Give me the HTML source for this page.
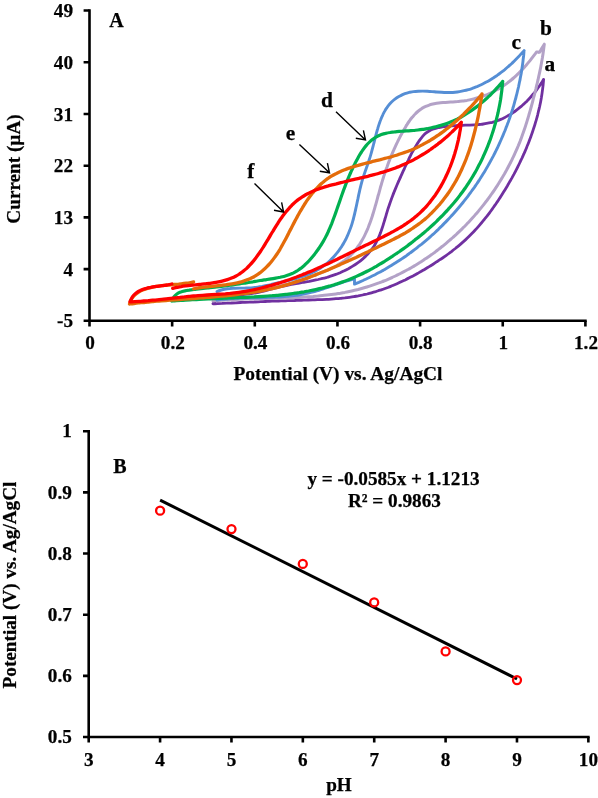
<!DOCTYPE html>
<html><head><meta charset="utf-8">
<style>
html,body{margin:0;padding:0;background:#fff;}
body{width:598px;height:798px;overflow:hidden;}
svg{display:block;}
text{font-family:"Liberation Serif",serif;font-weight:bold;fill:#000;stroke:#000;stroke-width:0.25px;}
.t{font-size:19.2px;}
.l{font-size:21.4px;}.L{font-size:20px;}
</style></head><body>
<svg width="598" height="798" viewBox="0 0 598 798">
<rect width="598" height="798" fill="#fff"/>
<g fill="none" stroke-linecap="round" stroke-linejoin="round">
<path d="M213.0,303.6 C213.5,303.0 214.7,301.1 215.9,300.2 C217.0,299.2 218.3,298.6 219.7,298.0 C221.1,297.5 222.6,297.1 224.1,296.8 C225.6,296.4 227.1,296.2 228.6,295.9 C230.1,295.7 231.7,295.5 233.2,295.4 C234.7,295.2 236.2,295.1 237.8,294.9 C239.3,294.8 240.8,294.7 242.3,294.6 C243.9,294.4 245.4,294.3 246.9,294.1 C248.4,294.0 249.9,293.8 251.4,293.5 C252.9,293.3 254.4,293.1 255.9,292.8 C257.4,292.5 258.9,292.2 260.4,291.8 C261.9,291.5 263.3,291.1 264.8,290.8 C266.3,290.4 267.8,290.0 269.2,289.7 C270.7,289.3 272.2,288.9 273.7,288.5 C275.1,288.1 276.6,287.7 278.1,287.4 C279.6,287.0 281.0,286.6 282.5,286.3 C284.0,286.0 285.5,285.6 287.0,285.3 C288.4,285.0 289.9,284.7 291.4,284.4 C292.9,284.2 294.4,283.9 295.9,283.6 C297.4,283.4 298.9,283.1 300.4,282.8 C301.9,282.6 303.3,282.3 304.8,282.1 C306.3,281.8 307.8,281.5 309.3,281.3 C310.8,281.0 312.3,280.7 313.8,280.4 C315.3,280.1 316.7,279.8 318.2,279.5 C319.7,279.1 321.2,278.8 322.6,278.4 C324.1,278.1 325.6,277.7 327.1,277.3 C328.5,276.8 330.0,276.4 331.4,275.9 C332.9,275.4 334.3,274.9 335.8,274.4 C337.2,273.9 338.6,273.3 340.1,272.7 C341.5,272.1 342.9,271.5 344.3,270.8 C345.6,270.1 347.0,269.4 348.4,268.7 C349.7,268.0 351.0,267.2 352.3,266.4 C353.6,265.6 354.9,264.8 356.1,264.0 C357.4,263.1 358.6,262.2 359.8,261.3 C361.0,260.4 362.1,259.4 363.3,258.4 C364.4,257.4 365.5,256.4 366.5,255.3 C367.6,254.3 368.6,253.2 369.5,252.0 C370.5,250.9 371.4,249.8 372.3,248.6 C373.2,247.4 374.0,246.1 374.8,244.9 C375.5,243.6 376.3,242.3 376.9,240.9 C377.6,239.6 378.3,238.2 378.9,236.8 C379.5,235.5 380.0,234.0 380.6,232.6 C381.1,231.2 381.6,229.7 382.1,228.2 C382.6,226.8 383.1,225.3 383.5,223.8 C384.0,222.3 384.4,220.8 384.9,219.3 C385.3,217.8 385.8,216.3 386.2,214.8 C386.6,213.3 387.1,211.9 387.5,210.4 C388.0,208.9 388.5,207.4 389.0,206.0 C389.5,204.5 390.0,203.1 390.5,201.6 C391.0,200.2 391.5,198.8 392.0,197.4 C392.6,195.9 393.1,194.5 393.7,193.1 C394.2,191.7 394.8,190.3 395.4,188.9 C396.0,187.6 396.5,186.2 397.1,184.8 C397.7,183.4 398.3,182.0 398.9,180.7 C399.5,179.3 400.1,177.9 400.8,176.5 C401.4,175.2 402.0,173.8 402.6,172.4 C403.2,171.1 403.8,169.7 404.5,168.3 C405.1,166.9 405.7,165.6 406.4,164.2 C407.0,162.8 407.6,161.4 408.3,160.1 C409.0,158.7 409.6,157.3 410.3,156.0 C411.0,154.6 411.7,153.3 412.4,151.9 C413.2,150.6 413.9,149.3 414.7,147.9 C415.5,146.6 416.3,145.3 417.1,144.0 C418.0,142.7 418.8,141.4 419.7,140.1 C420.6,138.9 421.6,137.6 422.6,136.4 C423.6,135.2 424.6,134.1 425.8,133.1 C426.9,132.2 428.2,131.4 429.5,130.7 C430.7,130.0 432.1,129.4 433.5,128.9 C434.9,128.4 436.4,128.1 437.9,127.7 C439.3,127.4 440.8,127.2 442.3,126.9 C443.8,126.7 445.3,126.5 446.8,126.3 C448.3,126.1 449.9,126.0 451.4,125.9 C452.9,125.8 454.4,125.7 456.0,125.6 C457.5,125.5 459.0,125.5 460.5,125.4 C462.1,125.4 463.6,125.3 465.1,125.2 C466.7,125.2 468.2,125.1 469.7,125.1 C471.3,125.0 472.8,124.9 474.3,124.8 C475.8,124.7 477.3,124.6 478.8,124.5 C480.4,124.3 481.9,124.2 483.3,124.0 C484.8,123.8 486.3,123.5 487.8,123.2 C489.3,123.0 490.7,122.6 492.2,122.3 C493.6,121.9 495.1,121.5 496.5,121.0 C497.9,120.5 499.3,120.0 500.7,119.4 C502.1,118.8 503.5,118.1 504.8,117.5 C506.2,116.8 507.5,116.0 508.8,115.3 C510.2,114.5 511.5,113.7 512.7,112.8 C514.0,112.0 515.3,111.1 516.5,110.1 C517.8,109.2 519.0,108.2 520.2,107.2 C521.4,106.2 522.5,105.2 523.7,104.2 C524.8,103.1 526.0,102.0 527.1,100.9 C528.1,99.8 529.2,98.7 530.3,97.5 C531.3,96.4 532.3,95.2 533.3,94.0 C534.3,92.9 535.2,91.7 536.2,90.5 C537.1,89.3 538.0,88.0 538.8,86.8 C539.7,85.6 540.5,84.4 541.3,83.1 C542.1,81.9 543.2,80.0 543.6,79.4 M543.6,79.4 C543.5,80.2 543.4,82.4 543.2,83.9 C543.1,85.4 542.9,86.9 542.7,88.4 C542.5,89.9 542.3,91.4 542.1,92.9 C541.9,94.4 541.6,95.9 541.4,97.4 C541.1,98.9 540.9,100.4 540.6,101.9 C540.3,103.3 540.0,104.8 539.7,106.3 C539.3,107.8 539.0,109.3 538.6,110.7 C538.3,112.2 537.9,113.7 537.6,115.1 C537.2,116.6 536.8,118.0 536.4,119.5 C536.0,121.0 535.5,122.4 535.1,123.9 C534.7,125.3 534.2,126.8 533.7,128.2 C533.3,129.6 532.8,131.1 532.3,132.5 C531.8,133.9 531.3,135.4 530.8,136.8 C530.3,138.2 529.7,139.6 529.2,141.1 C528.6,142.5 528.1,143.9 527.5,145.3 C526.9,146.7 526.4,148.1 525.8,149.5 C525.2,150.9 524.6,152.3 524.0,153.7 C523.3,155.1 522.7,156.5 522.1,157.8 C521.4,159.2 520.8,160.6 520.1,162.0 C519.5,163.3 518.8,164.7 518.1,166.1 C517.5,167.4 516.8,168.8 516.1,170.1 C515.4,171.5 514.7,172.8 514.0,174.1 C513.2,175.5 512.5,176.8 511.8,178.1 C511.0,179.5 510.3,180.8 509.5,182.1 C508.8,183.4 508.0,184.7 507.3,186.0 C506.5,187.3 505.7,188.6 504.9,189.9 C504.1,191.2 503.3,192.5 502.5,193.8 C501.7,195.1 500.9,196.4 500.1,197.6 C499.3,198.9 498.4,200.2 497.6,201.4 C496.7,202.7 495.9,203.9 495.0,205.2 C494.1,206.4 493.3,207.7 492.4,208.9 C491.5,210.1 490.6,211.4 489.7,212.6 C488.8,213.8 487.9,215.0 487.0,216.2 C486.0,217.4 485.1,218.6 484.1,219.7 C483.2,220.9 482.2,222.1 481.2,223.2 C480.3,224.4 479.3,225.5 478.3,226.6 C477.3,227.8 476.3,228.9 475.2,230.0 C474.2,231.1 473.2,232.2 472.1,233.3 C471.1,234.3 470.0,235.4 468.9,236.5 C467.9,237.5 466.8,238.6 465.7,239.6 C464.6,240.6 463.5,241.6 462.3,242.6 C461.2,243.6 460.1,244.6 458.9,245.6 C457.8,246.6 456.6,247.5 455.4,248.5 C454.2,249.4 453.0,250.3 451.8,251.3 C450.6,252.2 449.4,253.1 448.2,254.0 C447.0,254.9 445.7,255.7 444.5,256.6 C443.3,257.5 442.0,258.4 440.7,259.2 C439.5,260.1 438.2,260.9 436.9,261.7 C435.7,262.6 434.4,263.4 433.1,264.2 C431.8,265.0 430.5,265.8 429.2,266.6 C427.9,267.4 426.6,268.2 425.3,269.0 C424.0,269.8 422.7,270.5 421.3,271.3 C420.0,272.0 418.7,272.8 417.4,273.5 C416.0,274.3 414.7,275.0 413.4,275.7 C412.0,276.4 410.7,277.1 409.3,277.8 C408.0,278.5 406.6,279.2 405.2,279.9 C403.9,280.5 402.5,281.2 401.1,281.8 C399.8,282.5 398.4,283.1 397.0,283.7 C395.6,284.3 394.2,284.9 392.8,285.5 C391.4,286.1 390.0,286.6 388.6,287.2 C387.2,287.7 385.8,288.2 384.4,288.7 C383.0,289.3 381.6,289.7 380.1,290.2 C378.7,290.7 377.3,291.1 375.8,291.6 C374.4,292.0 372.9,292.4 371.5,292.8 C370.0,293.2 368.6,293.6 367.1,294.0 C365.7,294.3 364.2,294.7 362.7,295.0 C361.3,295.3 359.8,295.6 358.3,295.9 C356.8,296.1 355.3,296.4 353.8,296.6 C352.4,296.9 350.9,297.1 349.4,297.3 C347.9,297.5 346.4,297.7 344.9,297.9 C343.4,298.0 341.8,298.2 340.3,298.3 C338.8,298.5 337.3,298.6 335.8,298.7 C334.3,298.9 332.8,299.0 331.2,299.1 C329.7,299.2 328.2,299.3 326.7,299.3 C325.1,299.4 323.6,299.5 322.1,299.6 C320.6,299.6 319.0,299.7 317.5,299.7 C316.0,299.8 314.5,299.9 312.9,299.9 C311.4,300.0 309.9,300.0 308.4,300.0 C306.8,300.1 305.3,300.1 303.8,300.2 C302.3,300.2 300.7,300.3 299.2,300.3 C297.7,300.4 296.2,300.4 294.7,300.5 C293.2,300.5 291.6,300.6 290.1,300.6 C288.6,300.7 287.1,300.7 285.6,300.8 C284.1,300.8 282.6,300.9 281.0,300.9 C279.5,301.0 278.0,301.0 276.5,301.1 C275.0,301.1 273.5,301.2 272.0,301.2 C270.5,301.3 269.0,301.4 267.5,301.4 C266.0,301.5 264.5,301.5 262.9,301.6 C261.4,301.7 259.9,301.7 258.4,301.8 C256.9,301.8 255.4,301.9 253.9,302.0 C252.4,302.0 250.9,302.1 249.4,302.2 C247.9,302.2 246.4,302.3 244.9,302.4 C243.3,302.4 241.8,302.5 240.3,302.5 C238.8,302.6 237.3,302.7 235.8,302.8 C234.3,302.8 232.8,302.9 231.2,303.0 C229.7,303.0 228.2,303.1 226.7,303.2 C225.2,303.2 223.7,303.3 222.1,303.4 C220.6,303.4 219.1,303.5 217.6,303.6 C216.1,303.7 213.8,303.8 213.0,303.8" stroke="#7030A0" stroke-width="2.8"/>
<path d="M213.0,299.0 C213.7,298.7 215.8,297.8 217.3,297.3 C218.7,296.9 220.2,296.4 221.6,296.1 C223.1,295.7 224.6,295.4 226.1,295.1 C227.6,294.8 229.1,294.5 230.6,294.3 C232.1,294.1 233.6,293.9 235.1,293.7 C236.7,293.5 238.2,293.4 239.7,293.2 C241.3,293.1 242.8,292.9 244.3,292.7 C245.9,292.6 247.4,292.4 248.9,292.2 C250.4,292.1 251.9,291.9 253.5,291.6 C255.0,291.4 256.5,291.2 258.0,290.9 C259.5,290.7 261.0,290.4 262.5,290.1 C264.0,289.8 265.5,289.5 267.0,289.2 C268.4,288.9 269.9,288.5 271.4,288.2 C272.9,287.9 274.4,287.5 275.9,287.1 C277.3,286.8 278.8,286.4 280.3,286.0 C281.8,285.6 283.2,285.2 284.7,284.8 C286.2,284.4 287.6,284.0 289.1,283.6 C290.6,283.2 292.1,282.7 293.5,282.3 C295.0,281.9 296.5,281.4 297.9,281.0 C299.4,280.5 300.9,280.0 302.3,279.6 C303.8,279.1 305.2,278.6 306.7,278.1 C308.1,277.6 309.6,277.1 311.1,276.6 C312.5,276.1 313.9,275.5 315.4,275.0 C316.8,274.5 318.3,273.9 319.7,273.4 C321.2,272.8 322.6,272.2 324.0,271.6 C325.4,271.0 326.9,270.4 328.3,269.8 C329.7,269.2 331.1,268.5 332.5,267.9 C333.9,267.2 335.2,266.5 336.6,265.7 C337.9,265.0 339.2,264.2 340.5,263.4 C341.8,262.5 343.0,261.6 344.3,260.7 C345.5,259.8 346.6,258.8 347.8,257.8 C348.9,256.9 350.0,255.8 351.1,254.8 C352.2,253.7 353.2,252.6 354.2,251.5 C355.1,250.3 356.1,249.2 357.0,248.0 C357.9,246.8 358.7,245.6 359.6,244.3 C360.4,243.1 361.2,241.8 361.9,240.5 C362.7,239.2 363.4,237.9 364.1,236.6 C364.8,235.3 365.4,233.9 366.0,232.5 C366.7,231.1 367.3,229.7 367.9,228.3 C368.4,226.9 369.0,225.5 369.5,224.1 C370.1,222.6 370.6,221.2 371.1,219.7 C371.6,218.2 372.1,216.8 372.6,215.3 C373.0,213.8 373.5,212.3 373.9,210.8 C374.4,209.3 374.8,207.8 375.2,206.3 C375.7,204.8 376.1,203.3 376.5,201.8 C376.9,200.3 377.3,198.8 377.7,197.3 C378.1,195.8 378.6,194.3 379.0,192.8 C379.4,191.3 379.8,189.8 380.2,188.3 C380.6,186.8 381.1,185.3 381.5,183.8 C381.9,182.3 382.4,180.9 382.8,179.4 C383.3,178.0 383.7,176.5 384.2,175.1 C384.7,173.6 385.2,172.2 385.6,170.8 C386.1,169.3 386.6,167.9 387.2,166.5 C387.7,165.1 388.2,163.6 388.7,162.2 C389.3,160.8 389.8,159.4 390.4,158.0 C390.9,156.6 391.5,155.2 392.1,153.8 C392.7,152.4 393.3,151.0 393.9,149.7 C394.5,148.3 395.2,146.9 395.8,145.5 C396.5,144.1 397.1,142.7 397.8,141.3 C398.5,140.0 399.2,138.6 399.9,137.2 C400.6,135.8 401.3,134.4 402.1,133.0 C402.8,131.7 403.6,130.3 404.4,128.9 C405.2,127.6 406.0,126.2 406.8,124.9 C407.6,123.5 408.5,122.2 409.4,121.0 C410.3,119.7 411.2,118.5 412.2,117.3 C413.2,116.2 414.2,115.0 415.2,114.0 C416.2,112.9 417.3,111.9 418.4,111.0 C419.6,110.0 420.7,109.2 421.9,108.4 C423.2,107.6 424.4,107.0 425.7,106.4 C427.0,105.8 428.4,105.3 429.8,104.8 C431.2,104.4 432.7,104.1 434.2,103.8 C435.6,103.5 437.1,103.2 438.7,103.0 C440.2,102.8 441.8,102.7 443.3,102.6 C444.9,102.4 446.5,102.3 448.1,102.2 C449.7,102.1 451.3,102.0 452.9,101.9 C454.5,101.8 456.1,101.7 457.7,101.6 C459.3,101.4 460.9,101.3 462.4,101.1 C464.0,100.9 465.5,100.6 467.0,100.4 C468.6,100.1 470.1,99.8 471.6,99.4 C473.1,99.1 474.6,98.7 476.0,98.3 C477.5,97.9 479.0,97.5 480.4,97.0 C481.8,96.5 483.3,96.0 484.7,95.5 C486.1,95.0 487.5,94.4 488.8,93.8 C490.2,93.2 491.6,92.5 492.9,91.9 C494.3,91.2 495.6,90.5 496.9,89.8 C498.2,89.1 499.5,88.3 500.8,87.5 C502.0,86.7 503.3,85.9 504.5,85.0 C505.8,84.2 507.0,83.3 508.2,82.3 C509.4,81.4 510.6,80.5 511.8,79.5 C513.0,78.5 514.1,77.5 515.3,76.5 C516.4,75.4 517.5,74.3 518.6,73.2 C519.7,72.1 520.8,71.0 521.9,69.9 C523.0,68.7 524.0,67.6 525.1,66.4 C526.1,65.2 527.1,64.1 528.1,62.9 C529.1,61.7 530.1,60.5 531.0,59.3 C532.0,58.1 532.9,56.9 533.8,55.7 C534.7,54.5 536.1,52.7 536.5,52.1 L536.5,52.1 L537.8,51.9 L538.8,52.4 L539.8,52.0 L541.0,49.8 L542.1,47.7 L544.3,44.2 L544.3,44.2 C544.2,45.0 543.9,47.2 543.7,48.7 C543.5,50.2 543.3,51.7 543.1,53.2 C542.9,54.7 542.6,56.2 542.4,57.7 C542.1,59.2 541.9,60.7 541.6,62.2 C541.3,63.7 541.1,65.2 540.8,66.7 C540.5,68.1 540.2,69.6 539.9,71.1 C539.6,72.6 539.3,74.1 538.9,75.6 C538.6,77.0 538.3,78.5 538.0,80.0 C537.6,81.5 537.3,83.0 536.9,84.4 C536.6,85.9 536.2,87.4 535.9,88.9 C535.5,90.3 535.1,91.8 534.8,93.3 C534.4,94.8 534.0,96.2 533.6,97.7 C533.2,99.2 532.9,100.7 532.5,102.1 C532.1,103.6 531.7,105.1 531.3,106.5 C530.9,108.0 530.5,109.5 530.1,110.9 C529.7,112.4 529.2,113.9 528.8,115.3 C528.4,116.8 527.9,118.3 527.5,119.7 C527.1,121.2 526.6,122.6 526.1,124.1 C525.7,125.5 525.2,127.0 524.7,128.4 C524.2,129.9 523.7,131.3 523.2,132.7 C522.7,134.2 522.2,135.6 521.7,137.0 C521.2,138.4 520.6,139.9 520.1,141.3 C519.5,142.7 518.9,144.1 518.4,145.5 C517.8,146.9 517.2,148.3 516.6,149.7 C516.0,151.1 515.4,152.4 514.7,153.8 C514.1,155.2 513.5,156.6 512.8,157.9 C512.2,159.3 511.5,160.7 510.8,162.0 C510.1,163.4 509.4,164.7 508.7,166.0 C508.0,167.4 507.3,168.7 506.6,170.0 C505.8,171.4 505.1,172.7 504.4,174.0 C503.6,175.3 502.8,176.6 502.1,177.9 C501.3,179.2 500.5,180.5 499.7,181.8 C498.9,183.1 498.1,184.3 497.3,185.6 C496.4,186.9 495.6,188.1 494.8,189.4 C493.9,190.7 493.1,191.9 492.2,193.1 C491.3,194.4 490.5,195.6 489.6,196.8 C488.7,198.1 487.8,199.3 486.9,200.5 C485.9,201.7 485.0,202.9 484.1,204.1 C483.2,205.3 482.2,206.5 481.3,207.6 C480.3,208.8 479.3,210.0 478.4,211.2 C477.4,212.3 476.4,213.5 475.4,214.6 C474.4,215.8 473.4,216.9 472.4,218.0 C471.4,219.1 470.3,220.3 469.3,221.4 C468.3,222.5 467.2,223.6 466.2,224.7 C465.1,225.8 464.0,226.9 462.9,227.9 C461.9,229.0 460.8,230.1 459.7,231.1 C458.6,232.2 457.5,233.2 456.4,234.3 C455.2,235.3 454.1,236.3 453.0,237.4 C451.8,238.4 450.7,239.4 449.5,240.4 C448.4,241.4 447.2,242.4 446.1,243.3 C444.9,244.3 443.7,245.3 442.5,246.3 C441.3,247.2 440.1,248.2 438.9,249.1 C437.7,250.0 436.5,251.0 435.3,251.9 C434.0,252.8 432.8,253.7 431.6,254.6 C430.3,255.5 429.1,256.3 427.8,257.2 C426.6,258.1 425.3,258.9 424.0,259.8 C422.8,260.6 421.5,261.4 420.2,262.3 C418.9,263.1 417.6,263.9 416.3,264.7 C415.0,265.5 413.7,266.2 412.4,267.0 C411.1,267.8 409.8,268.5 408.4,269.3 C407.1,270.0 405.8,270.7 404.4,271.4 C403.1,272.1 401.8,272.8 400.4,273.5 C399.0,274.2 397.7,274.9 396.3,275.5 C394.9,276.2 393.6,276.8 392.2,277.5 C390.8,278.1 389.4,278.7 388.0,279.3 C386.7,279.9 385.3,280.5 383.9,281.0 C382.5,281.6 381.0,282.1 379.6,282.7 C378.2,283.2 376.8,283.7 375.4,284.2 C374.0,284.7 372.5,285.2 371.1,285.7 C369.7,286.2 368.2,286.6 366.8,287.0 C365.3,287.5 363.9,287.9 362.5,288.3 C361.0,288.7 359.5,289.1 358.1,289.5 C356.6,289.8 355.2,290.2 353.7,290.5 C352.2,290.9 350.8,291.2 349.3,291.5 C347.8,291.8 346.3,292.1 344.8,292.4 C343.4,292.6 341.9,292.9 340.4,293.2 C338.9,293.4 337.4,293.7 335.9,293.9 C334.4,294.1 332.9,294.3 331.4,294.5 C329.9,294.7 328.4,294.9 326.9,295.1 C325.4,295.3 323.9,295.5 322.4,295.6 C320.9,295.8 319.4,295.9 317.8,296.1 C316.3,296.2 314.8,296.3 313.3,296.5 C311.8,296.6 310.3,296.7 308.7,296.8 C307.2,296.9 305.7,297.0 304.2,297.1 C302.6,297.2 301.1,297.3 299.6,297.4 C298.1,297.5 296.5,297.5 295.0,297.6 C293.5,297.7 291.9,297.7 290.4,297.8 C288.9,297.9 287.3,297.9 285.8,298.0 C284.3,298.0 282.8,298.1 281.2,298.1 C279.7,298.2 278.2,298.2 276.6,298.3 C275.1,298.3 273.6,298.3 272.0,298.4 C270.5,298.4 269.0,298.5 267.4,298.5 C265.9,298.5 264.4,298.6 262.8,298.6 C261.3,298.6 259.8,298.7 258.3,298.7 C256.7,298.8 255.2,298.8 253.7,298.8 C252.2,298.9 250.6,298.9 249.1,299.0 C247.6,299.0 246.1,299.1 244.5,299.1 C243.0,299.2 241.5,299.2 240.0,299.3 C238.5,299.3 237.0,299.4 235.5,299.5 C233.9,299.5 232.4,299.6 230.9,299.7 C229.4,299.8 227.9,299.9 226.4,300.0 C224.9,300.1 223.4,300.2 221.9,300.3 C220.4,300.4 218.9,300.5 217.5,300.6 C216.0,300.7 213.7,300.9 213.0,301.0" stroke="#B3A2C7" stroke-width="3.0"/>
<path d="M217.0,291.5 C217.7,291.2 219.9,290.4 221.3,290.0 C222.8,289.6 224.3,289.3 225.8,289.0 C227.3,288.7 228.8,288.6 230.3,288.5 C231.8,288.3 233.4,288.3 234.9,288.2 C236.5,288.1 238.0,288.1 239.5,288.1 C241.1,288.1 242.6,288.1 244.2,288.1 C245.7,288.0 247.2,288.0 248.7,287.9 C250.2,287.9 251.8,287.8 253.2,287.6 C254.7,287.5 256.2,287.3 257.7,287.1 C259.2,286.9 260.7,286.6 262.1,286.4 C263.6,286.1 265.1,285.8 266.5,285.5 C268.0,285.2 269.5,284.9 271.0,284.6 C272.4,284.2 273.9,283.9 275.4,283.5 C276.9,283.2 278.4,282.8 279.9,282.5 C281.4,282.1 282.9,281.8 284.4,281.4 C286.0,281.0 287.5,280.7 289.0,280.3 C290.6,279.9 292.1,279.5 293.6,279.1 C295.2,278.7 296.7,278.3 298.2,277.8 C299.7,277.4 301.2,276.9 302.7,276.4 C304.2,275.9 305.7,275.4 307.1,274.8 C308.6,274.3 310.0,273.7 311.4,273.1 C312.8,272.4 314.2,271.8 315.5,271.0 C316.9,270.3 318.2,269.6 319.5,268.8 C320.7,268.0 322.0,267.1 323.2,266.2 C324.4,265.4 325.6,264.4 326.8,263.5 C327.9,262.5 329.0,261.5 330.1,260.5 C331.2,259.5 332.3,258.4 333.3,257.3 C334.3,256.2 335.3,255.1 336.2,253.9 C337.2,252.7 338.1,251.5 339.0,250.3 C339.9,249.1 340.7,247.9 341.6,246.6 C342.4,245.3 343.2,244.0 343.9,242.7 C344.7,241.4 345.4,240.0 346.1,238.7 C346.7,237.3 347.4,235.9 348.0,234.5 C348.6,233.1 349.2,231.7 349.7,230.3 C350.3,228.9 350.8,227.4 351.3,226.0 C351.8,224.5 352.2,223.0 352.6,221.6 C353.1,220.1 353.5,218.6 353.8,217.1 C354.2,215.6 354.6,214.1 354.9,212.6 C355.3,211.1 355.6,209.6 355.9,208.1 C356.3,206.5 356.6,205.0 356.9,203.5 C357.2,202.0 357.5,200.5 357.9,198.9 C358.2,197.4 358.5,195.9 358.8,194.4 C359.2,192.9 359.5,191.4 359.8,189.9 C360.2,188.4 360.5,186.9 360.9,185.4 C361.3,183.9 361.7,182.4 362.1,180.9 C362.5,179.5 363.0,178.0 363.5,176.6 C363.9,175.1 364.4,173.7 364.9,172.3 C365.4,170.8 365.9,169.4 366.4,168.0 C366.9,166.5 367.4,165.1 367.9,163.7 C368.4,162.3 368.9,160.8 369.3,159.4 C369.8,158.0 370.3,156.5 370.7,155.0 C371.1,153.6 371.5,152.1 371.9,150.7 C372.3,149.2 372.7,147.7 373.1,146.2 C373.5,144.7 373.8,143.3 374.2,141.8 C374.6,140.3 374.9,138.8 375.3,137.3 C375.7,135.8 376.1,134.3 376.5,132.8 C376.9,131.3 377.3,129.8 377.8,128.4 C378.2,126.9 378.7,125.4 379.2,123.9 C379.7,122.5 380.2,121.0 380.8,119.5 C381.3,118.1 381.9,116.7 382.6,115.3 C383.2,113.9 383.9,112.5 384.7,111.1 C385.4,109.8 386.2,108.5 387.1,107.3 C388.0,106.0 388.9,104.8 389.9,103.7 C390.9,102.6 392.0,101.5 393.2,100.5 C394.3,99.6 395.5,98.7 396.8,97.8 C398.0,97.0 399.3,96.2 400.7,95.6 C402.0,94.9 403.4,94.3 404.9,93.7 C406.3,93.2 407.7,92.8 409.2,92.4 C410.7,92.1 412.1,91.8 413.6,91.6 C415.1,91.4 416.6,91.3 418.2,91.2 C419.7,91.1 421.2,91.1 422.7,91.1 C424.3,91.1 425.8,91.2 427.3,91.3 C428.9,91.4 430.4,91.5 432.0,91.6 C433.5,91.7 435.1,91.9 436.6,92.0 C438.2,92.1 439.8,92.2 441.3,92.3 C442.9,92.4 444.4,92.5 445.9,92.5 C447.5,92.6 449.0,92.6 450.5,92.5 C452.1,92.5 453.6,92.4 455.1,92.2 C456.6,92.1 458.1,91.9 459.6,91.6 C461.1,91.4 462.6,91.1 464.1,90.7 C465.5,90.4 467.0,90.0 468.4,89.6 C469.9,89.2 471.3,88.7 472.8,88.2 C474.2,87.7 475.6,87.1 477.0,86.6 C478.4,86.0 479.8,85.4 481.2,84.7 C482.6,84.0 483.9,83.4 485.3,82.6 C486.6,81.9 488.0,81.2 489.3,80.4 C490.6,79.6 491.9,78.8 493.2,78.0 C494.5,77.1 495.8,76.2 497.1,75.4 C498.4,74.5 499.6,73.6 500.8,72.6 C502.1,71.7 503.3,70.7 504.5,69.8 C505.7,68.8 506.9,67.8 508.0,66.8 C509.2,65.8 510.4,64.7 511.5,63.7 C512.6,62.6 513.7,61.6 514.8,60.5 C515.9,59.4 517.0,58.3 518.0,57.3 C519.1,56.2 520.1,55.1 521.1,53.9 C522.1,52.8 523.6,51.2 524.1,50.6 M524.1,50.6 C524.0,51.4 523.8,53.7 523.7,55.2 C523.5,56.7 523.3,58.2 523.1,59.8 C523.0,61.3 522.8,62.8 522.6,64.3 C522.4,65.9 522.1,67.4 521.9,68.9 C521.7,70.4 521.4,71.9 521.2,73.5 C520.9,75.0 520.6,76.5 520.3,78.0 C520.1,79.5 519.8,81.0 519.4,82.5 C519.1,84.0 518.8,85.5 518.5,87.0 C518.1,88.5 517.8,90.0 517.4,91.5 C517.1,93.0 516.7,94.5 516.3,95.9 C516.0,97.4 515.6,98.9 515.1,100.4 C514.7,101.9 514.3,103.3 513.9,104.8 C513.5,106.3 513.0,107.7 512.6,109.2 C512.1,110.7 511.6,112.1 511.2,113.6 C510.7,115.0 510.2,116.5 509.7,117.9 C509.2,119.4 508.7,120.8 508.2,122.3 C507.6,123.7 507.1,125.1 506.5,126.6 C506.0,128.0 505.4,129.4 504.9,130.8 C504.3,132.3 503.7,133.7 503.1,135.1 C502.5,136.5 501.9,137.9 501.3,139.3 C500.7,140.7 500.1,142.1 499.4,143.5 C498.8,144.9 498.1,146.3 497.5,147.7 C496.8,149.0 496.1,150.4 495.5,151.8 C494.8,153.1 494.1,154.5 493.4,155.9 C492.7,157.2 492.0,158.6 491.2,159.9 C490.5,161.3 489.8,162.6 489.0,163.9 C488.3,165.3 487.5,166.6 486.7,167.9 C486.0,169.3 485.2,170.6 484.4,171.9 C483.6,173.2 482.8,174.5 482.0,175.8 C481.2,177.1 480.3,178.4 479.5,179.7 C478.7,180.9 477.8,182.2 477.0,183.5 C476.1,184.7 475.3,186.0 474.4,187.3 C473.5,188.5 472.6,189.8 471.7,191.0 C470.8,192.2 469.9,193.5 469.0,194.7 C468.1,195.9 467.2,197.2 466.2,198.4 C465.3,199.6 464.3,200.8 463.4,202.0 C462.4,203.2 461.5,204.4 460.5,205.5 C459.5,206.7 458.5,207.9 457.5,209.0 C456.5,210.2 455.5,211.4 454.5,212.5 C453.5,213.7 452.5,214.8 451.4,215.9 C450.4,217.1 449.4,218.2 448.3,219.3 C447.3,220.4 446.2,221.5 445.1,222.6 C444.1,223.7 443.0,224.8 441.9,225.9 C440.8,226.9 439.7,228.0 438.6,229.1 C437.5,230.1 436.4,231.2 435.3,232.2 C434.2,233.3 433.0,234.3 431.9,235.3 C430.8,236.3 429.6,237.4 428.5,238.4 C427.3,239.4 426.1,240.4 425.0,241.3 C423.8,242.3 422.6,243.3 421.4,244.3 C420.2,245.2 419.0,246.2 417.8,247.1 C416.6,248.1 415.4,249.0 414.2,249.9 C413.0,250.9 411.8,251.8 410.5,252.7 C409.3,253.6 408.0,254.5 406.8,255.4 C405.5,256.2 404.3,257.1 403.0,258.0 C401.8,258.8 400.5,259.7 399.2,260.5 C397.9,261.4 396.6,262.2 395.3,263.0 C394.0,263.8 392.7,264.7 391.4,265.4 C390.1,266.2 388.8,267.0 387.5,267.8 C386.2,268.6 384.8,269.3 383.5,270.1 C382.2,270.8 380.8,271.6 379.5,272.3 C378.1,273.0 376.8,273.7 375.4,274.5 C374.0,275.2 372.7,275.8 371.3,276.5 C369.9,277.2 368.5,277.9 367.2,278.5 C365.8,279.2 364.4,279.8 363.0,280.5 C361.6,281.1 360.2,281.7 358.8,282.3 C357.3,282.9 355.2,283.8 354.5,284.1 L354.5,278.8 C353.7,279.0 351.5,279.6 350.0,280.0 C348.5,280.4 347.0,280.9 345.5,281.4 C344.1,281.8 342.6,282.3 341.1,282.8 C339.6,283.3 338.2,283.9 336.7,284.4 C335.2,284.9 333.8,285.4 332.3,286.0 C330.8,286.5 329.4,287.0 327.9,287.5 C326.4,288.0 324.9,288.5 323.5,288.9 C322.0,289.4 320.5,289.9 319.0,290.3 C317.5,290.7 316.0,291.2 314.5,291.6 C313.0,292.0 311.5,292.3 310.0,292.7 C308.5,293.1 307.0,293.4 305.5,293.7 C304.0,294.0 302.5,294.3 301.0,294.6 C299.4,294.8 297.9,295.1 296.4,295.3 C294.8,295.5 293.3,295.7 291.8,295.9 C290.2,296.1 288.7,296.2 287.1,296.4 C285.6,296.5 284.0,296.6 282.5,296.8 C280.9,296.9 279.4,297.0 277.8,297.0 C276.2,297.1 274.7,297.2 273.1,297.3 C271.5,297.3 270.0,297.4 268.4,297.4 C266.8,297.5 265.3,297.5 263.7,297.6 C262.1,297.6 260.6,297.6 259.0,297.7 C257.4,297.7 255.9,297.7 254.3,297.8 C252.7,297.8 251.2,297.8 249.6,297.9 C248.0,297.9 246.5,297.9 244.9,298.0 C243.3,298.0 241.8,298.1 240.2,298.1 C238.6,298.2 237.1,298.3 235.5,298.4 C234.0,298.4 232.4,298.5 230.9,298.6 C229.3,298.7 227.8,298.9 226.2,299.0 C224.7,299.1 223.1,299.3 221.6,299.4 C220.1,299.6 217.8,299.9 217.0,300.0" stroke="#558ED5" stroke-width="2.9"/>
<path d="M171.8,301.0 C172.1,300.3 173.0,298.0 173.9,296.9 C174.7,295.7 175.8,294.8 176.9,294.0 C178.0,293.2 179.3,292.6 180.6,292.1 C181.9,291.5 183.3,291.2 184.8,290.9 C186.2,290.5 187.7,290.3 189.3,290.1 C190.8,289.9 192.3,289.7 193.9,289.5 C195.4,289.3 196.9,289.2 198.5,289.0 C200.0,288.8 201.6,288.6 203.1,288.4 C204.6,288.3 206.2,288.1 207.7,287.9 C209.2,287.7 210.7,287.6 212.3,287.4 C213.8,287.2 215.3,287.0 216.8,286.9 C218.4,286.7 219.9,286.5 221.4,286.3 C222.9,286.1 224.4,285.9 226.0,285.7 C227.5,285.5 229.0,285.4 230.5,285.2 C232.0,285.0 233.5,284.7 235.0,284.5 C236.5,284.3 238.0,284.1 239.5,283.9 C241.0,283.6 242.5,283.4 244.0,283.2 C245.5,283.0 247.0,282.7 248.5,282.5 C250.0,282.2 251.5,282.0 253.0,281.8 C254.5,281.5 256.0,281.3 257.5,281.0 C259.0,280.8 260.5,280.6 262.0,280.3 C263.5,280.1 265.0,279.8 266.5,279.6 C268.0,279.4 269.6,279.2 271.1,278.9 C272.6,278.7 274.2,278.4 275.7,278.1 C277.2,277.9 278.7,277.6 280.2,277.3 C281.7,276.9 283.2,276.6 284.7,276.2 C286.1,275.8 287.6,275.3 289.0,274.8 C290.4,274.3 291.7,273.7 293.1,273.1 C294.4,272.4 295.7,271.7 297.0,270.9 C298.2,270.1 299.5,269.3 300.7,268.4 C301.9,267.5 303.0,266.5 304.2,265.5 C305.3,264.5 306.4,263.5 307.5,262.4 C308.6,261.3 309.6,260.2 310.6,259.0 C311.6,257.9 312.6,256.7 313.6,255.5 C314.6,254.3 315.5,253.0 316.4,251.8 C317.3,250.6 318.2,249.3 319.1,248.0 C319.9,246.7 320.8,245.5 321.6,244.1 C322.4,242.8 323.2,241.5 323.9,240.2 C324.7,238.8 325.4,237.5 326.1,236.1 C326.8,234.8 327.4,233.4 328.1,232.0 C328.7,230.6 329.3,229.2 329.9,227.8 C330.5,226.4 331.1,225.0 331.7,223.6 C332.2,222.2 332.8,220.7 333.3,219.3 C333.8,217.9 334.4,216.5 334.9,215.0 C335.4,213.6 335.9,212.1 336.4,210.7 C336.9,209.3 337.4,207.8 337.9,206.4 C338.4,205.0 338.9,203.5 339.4,202.1 C339.9,200.7 340.4,199.2 340.9,197.8 C341.4,196.4 341.9,195.0 342.4,193.5 C342.9,192.1 343.4,190.7 343.9,189.3 C344.5,187.9 345.0,186.5 345.5,185.1 C346.1,183.6 346.6,182.2 347.2,180.8 C347.7,179.4 348.3,178.0 348.9,176.6 C349.5,175.2 350.1,173.8 350.7,172.5 C351.3,171.1 352.0,169.7 352.6,168.3 C353.3,166.9 353.9,165.5 354.6,164.2 C355.3,162.8 356.0,161.4 356.8,160.1 C357.5,158.7 358.3,157.3 359.0,156.0 C359.8,154.6 360.6,153.3 361.5,152.0 C362.3,150.7 363.2,149.4 364.1,148.2 C365.1,146.9 366.0,145.7 367.0,144.6 C368.0,143.4 369.1,142.4 370.2,141.4 C371.3,140.3 372.5,139.4 373.7,138.6 C374.9,137.7 376.1,137.0 377.4,136.3 C378.7,135.7 380.0,135.1 381.4,134.6 C382.8,134.1 384.2,133.7 385.6,133.4 C387.1,133.0 388.5,132.7 390.0,132.5 C391.5,132.2 393.0,132.0 394.6,131.9 C396.1,131.7 397.7,131.6 399.2,131.4 C400.8,131.3 402.3,131.2 403.9,131.1 C405.5,131.0 407.0,130.9 408.6,130.8 C410.2,130.7 411.7,130.6 413.3,130.5 C414.8,130.3 416.4,130.2 417.9,130.0 C419.4,129.8 421.0,129.6 422.5,129.4 C424.0,129.2 425.5,128.9 427.0,128.7 C428.5,128.4 430.0,128.1 431.5,127.8 C432.9,127.5 434.4,127.2 435.9,126.8 C437.3,126.4 438.8,126.1 440.2,125.6 C441.7,125.2 443.1,124.8 444.5,124.3 C446.0,123.8 447.4,123.3 448.8,122.7 C450.2,122.2 451.6,121.6 453.0,121.0 C454.3,120.4 455.7,119.8 457.1,119.1 C458.4,118.4 459.8,117.7 461.1,117.0 C462.5,116.2 463.8,115.5 465.1,114.7 C466.4,113.9 467.7,113.1 469.0,112.2 C470.3,111.4 471.5,110.5 472.8,109.6 C474.0,108.8 475.3,107.8 476.5,106.9 C477.7,106.0 478.9,105.0 480.1,104.0 C481.3,103.1 482.5,102.1 483.7,101.1 C484.8,100.1 486.0,99.0 487.1,98.0 C488.2,96.9 489.4,95.9 490.5,94.8 C491.6,93.7 492.6,92.7 493.7,91.6 C494.7,90.5 495.8,89.3 496.8,88.2 C497.8,87.1 498.8,86.0 499.8,84.8 C500.8,83.7 502.2,82.0 502.7,81.4 M502.7,81.4 C502.6,82.2 502.5,84.4 502.3,85.9 C502.2,87.4 502.0,89.0 501.8,90.5 C501.6,92.0 501.4,93.5 501.2,95.0 C501.0,96.5 500.8,98.0 500.6,99.5 C500.3,101.0 500.1,102.5 499.8,104.0 C499.5,105.5 499.2,107.0 498.9,108.5 C498.6,110.0 498.3,111.5 498.0,113.0 C497.6,114.5 497.3,116.0 496.9,117.4 C496.5,118.9 496.2,120.4 495.8,121.9 C495.4,123.4 495.0,124.8 494.5,126.3 C494.1,127.8 493.7,129.2 493.2,130.7 C492.7,132.1 492.3,133.6 491.8,135.0 C491.3,136.5 490.8,137.9 490.3,139.4 C489.8,140.8 489.2,142.2 488.7,143.7 C488.1,145.1 487.6,146.5 487.0,147.9 C486.4,149.3 485.8,150.8 485.2,152.2 C484.6,153.6 484.0,155.0 483.3,156.3 C482.7,157.7 482.1,159.1 481.4,160.5 C480.7,161.8 480.0,163.2 479.3,164.6 C478.6,165.9 477.9,167.3 477.2,168.6 C476.5,170.0 475.8,171.3 475.0,172.6 C474.2,173.9 473.5,175.2 472.7,176.5 C471.9,177.8 471.1,179.1 470.3,180.4 C469.5,181.7 468.7,183.0 467.8,184.2 C467.0,185.5 466.1,186.8 465.3,188.0 C464.4,189.3 463.5,190.5 462.6,191.7 C461.7,192.9 460.8,194.2 459.9,195.4 C459.0,196.6 458.0,197.8 457.1,198.9 C456.1,200.1 455.2,201.3 454.2,202.5 C453.2,203.6 452.2,204.8 451.2,205.9 C450.3,207.1 449.2,208.2 448.2,209.3 C447.2,210.4 446.2,211.6 445.1,212.7 C444.1,213.8 443.0,214.9 442.0,216.0 C440.9,217.0 439.8,218.1 438.7,219.2 C437.7,220.3 436.6,221.3 435.5,222.4 C434.4,223.4 433.2,224.5 432.1,225.5 C431.0,226.5 429.9,227.5 428.7,228.6 C427.6,229.6 426.4,230.6 425.3,231.6 C424.1,232.6 422.9,233.5 421.8,234.5 C420.6,235.5 419.4,236.5 418.2,237.4 C417.0,238.4 415.8,239.3 414.6,240.3 C413.4,241.2 412.2,242.2 411.0,243.1 C409.8,244.0 408.6,244.9 407.3,245.9 C406.1,246.8 404.9,247.7 403.6,248.6 C402.4,249.5 401.1,250.3 399.9,251.2 C398.6,252.1 397.3,253.0 396.1,253.8 C394.8,254.7 393.5,255.6 392.3,256.4 C391.0,257.2 389.7,258.1 388.4,258.9 C387.1,259.7 385.8,260.6 384.6,261.4 C383.3,262.2 382.0,263.0 380.6,263.7 C379.3,264.5 378.0,265.3 376.7,266.1 C375.4,266.8 374.0,267.6 372.7,268.3 C371.4,269.0 370.0,269.8 368.7,270.5 C367.3,271.2 366.0,271.9 364.6,272.5 C363.3,273.2 361.9,273.9 360.5,274.5 C359.2,275.2 357.8,275.8 356.4,276.4 C355.0,277.0 353.6,277.6 352.2,278.2 C350.8,278.8 349.4,279.4 348.0,279.9 C346.6,280.5 345.2,281.0 343.8,281.5 C342.3,282.0 340.9,282.5 339.5,283.0 C338.0,283.5 336.6,284.0 335.1,284.4 C333.7,284.9 332.2,285.3 330.8,285.7 C329.3,286.1 327.9,286.6 326.4,286.9 C324.9,287.3 323.5,287.7 322.0,288.1 C320.5,288.4 319.0,288.8 317.6,289.1 C316.1,289.5 314.6,289.8 313.1,290.1 C311.6,290.4 310.1,290.7 308.6,291.0 C307.2,291.2 305.7,291.5 304.2,291.8 C302.7,292.0 301.2,292.3 299.7,292.5 C298.2,292.7 296.7,293.0 295.1,293.2 C293.6,293.4 292.1,293.6 290.6,293.8 C289.1,294.0 287.6,294.1 286.1,294.3 C284.6,294.5 283.0,294.7 281.5,294.8 C280.0,295.0 278.5,295.1 277.0,295.3 C275.5,295.4 273.9,295.5 272.4,295.7 C270.9,295.8 269.4,295.9 267.8,296.0 C266.3,296.1 264.8,296.2 263.3,296.3 C261.7,296.4 260.2,296.5 258.7,296.6 C257.1,296.7 255.6,296.8 254.1,296.9 C252.5,297.0 251.0,297.0 249.5,297.1 C248.0,297.2 246.4,297.3 244.9,297.3 C243.4,297.4 241.8,297.5 240.3,297.5 C238.8,297.6 237.2,297.7 235.7,297.7 C234.2,297.8 232.6,297.9 231.1,297.9 C229.6,298.0 228.1,298.0 226.5,298.1 C225.0,298.2 223.5,298.2 221.9,298.3 C220.4,298.4 218.9,298.4 217.4,298.5 C215.8,298.6 214.3,298.6 212.8,298.7 C211.3,298.8 209.7,298.8 208.2,298.9 C206.7,299.0 205.2,299.1 203.7,299.2 C202.1,299.2 200.6,299.3 199.1,299.4 C197.6,299.5 196.1,299.6 194.5,299.6 C193.0,299.7 191.5,299.8 190.0,299.9 C188.5,300.0 187.0,300.1 185.4,300.2 C183.9,300.3 182.4,300.3 180.9,300.4 C179.4,300.5 177.9,300.6 176.3,300.7 C174.8,300.8 172.6,301.0 171.8,301.0" stroke="#00B050" stroke-width="3.2"/>
<path d="M129.5,304.0 C129.8,303.2 130.7,300.6 131.5,299.1 C132.4,297.7 133.4,296.4 134.5,295.3 C135.6,294.1 136.9,293.2 138.3,292.3 C139.7,291.4 141.1,290.7 142.7,290.0 C144.2,289.4 145.9,288.8 147.5,288.4 C149.2,287.9 150.9,287.5 152.6,287.1 C154.3,286.8 156.1,286.5 157.8,286.2 C159.5,285.9 161.3,285.7 163.0,285.5 C164.8,285.3 166.5,285.1 168.3,285.0 C170.0,284.8 171.8,284.7 173.5,284.5 C175.3,284.4 177.0,284.2 178.7,284.1 C180.4,283.9 182.1,283.7 183.8,283.5 C185.5,283.3 187.1,283.1 188.8,282.9 C190.4,282.6 192.8,282.1 193.6,282.0 M193.6,288.8 C194.3,288.7 196.4,288.3 197.9,288.0 C199.3,287.8 200.8,287.6 202.3,287.4 C203.8,287.2 205.3,287.0 206.8,286.8 C208.3,286.7 209.9,286.5 211.4,286.4 C212.9,286.2 214.5,286.1 216.1,285.9 C217.6,285.8 219.2,285.6 220.7,285.4 C222.3,285.3 223.9,285.1 225.4,284.9 C227.0,284.7 228.5,284.5 230.1,284.2 C231.6,284.0 233.2,283.7 234.7,283.4 C236.2,283.1 237.7,282.8 239.2,282.4 C240.7,282.0 242.1,281.6 243.6,281.1 C245.0,280.7 246.4,280.2 247.8,279.6 C249.2,279.1 250.6,278.5 251.9,277.8 C253.3,277.1 254.6,276.4 255.8,275.6 C257.1,274.8 258.3,274.0 259.5,273.1 C260.7,272.2 261.9,271.2 263.0,270.3 C264.2,269.3 265.3,268.3 266.4,267.2 C267.4,266.2 268.5,265.1 269.5,263.9 C270.5,262.8 271.4,261.7 272.3,260.5 C273.3,259.3 274.2,258.1 275.0,256.9 C275.9,255.6 276.8,254.4 277.6,253.1 C278.4,251.9 279.2,250.6 280.0,249.3 C280.7,248.0 281.5,246.7 282.2,245.3 C283.0,244.0 283.7,242.6 284.4,241.3 C285.2,239.9 285.9,238.6 286.6,237.2 C287.3,235.8 288.0,234.4 288.7,233.1 C289.4,231.7 290.1,230.3 290.9,228.9 C291.6,227.5 292.3,226.1 293.0,224.7 C293.7,223.3 294.5,221.9 295.2,220.5 C295.9,219.1 296.7,217.8 297.4,216.4 C298.2,215.0 299.0,213.6 299.7,212.3 C300.5,210.9 301.3,209.6 302.1,208.3 C302.9,206.9 303.7,205.6 304.5,204.3 C305.4,203.0 306.2,201.7 307.1,200.4 C307.9,199.2 308.8,197.9 309.7,196.7 C310.6,195.5 311.6,194.3 312.5,193.1 C313.5,191.9 314.4,190.8 315.4,189.7 C316.4,188.6 317.4,187.5 318.5,186.4 C319.5,185.4 320.6,184.3 321.7,183.4 C322.8,182.4 323.9,181.4 325.1,180.5 C326.3,179.6 327.5,178.7 328.7,177.9 C329.9,177.0 331.2,176.2 332.5,175.5 C333.8,174.7 335.1,174.0 336.4,173.4 C337.8,172.7 339.2,172.0 340.6,171.4 C342.0,170.8 343.4,170.3 344.8,169.7 C346.3,169.2 347.7,168.6 349.2,168.1 C350.7,167.6 352.1,167.2 353.6,166.7 C355.1,166.2 356.6,165.8 358.1,165.4 C359.6,164.9 361.1,164.5 362.6,164.1 C364.1,163.7 365.6,163.3 367.1,162.9 C368.6,162.6 370.1,162.2 371.6,161.8 C373.0,161.4 374.5,161.1 376.0,160.7 C377.5,160.3 379.0,159.9 380.5,159.6 C382.0,159.2 383.4,158.8 384.9,158.4 C386.4,158.1 387.8,157.7 389.3,157.3 C390.8,156.9 392.2,156.5 393.7,156.0 C395.1,155.6 396.6,155.2 398.0,154.7 C399.5,154.3 400.9,153.8 402.3,153.3 C403.8,152.8 405.2,152.3 406.6,151.8 C408.0,151.3 409.4,150.7 410.8,150.2 C412.2,149.6 413.6,149.0 415.0,148.4 C416.3,147.7 417.7,147.1 419.1,146.4 C420.4,145.7 421.8,145.1 423.1,144.3 C424.5,143.6 425.8,142.9 427.1,142.1 C428.4,141.4 429.7,140.6 431.0,139.8 C432.4,139.0 433.6,138.2 434.9,137.3 C436.2,136.5 437.5,135.6 438.7,134.8 C440.0,133.9 441.3,133.0 442.5,132.1 C443.7,131.2 445.0,130.3 446.2,129.3 C447.4,128.4 448.6,127.4 449.8,126.4 C451.0,125.5 452.2,124.5 453.3,123.5 C454.5,122.5 455.7,121.5 456.8,120.5 C458.0,119.4 459.1,118.4 460.2,117.3 C461.4,116.3 462.5,115.2 463.6,114.2 C464.7,113.1 465.8,112.0 466.8,110.9 C467.9,109.8 469.0,108.7 470.0,107.6 C471.1,106.5 472.1,105.4 473.1,104.3 C474.2,103.2 475.2,102.0 476.2,100.9 C477.2,99.7 478.2,98.6 479.1,97.5 C480.1,96.3 481.5,94.6 482.0,94.0 M482.0,94.0 C481.9,94.7 481.6,97.0 481.3,98.4 C481.1,99.9 480.9,101.4 480.6,102.9 C480.4,104.4 480.1,105.9 479.9,107.4 C479.6,108.9 479.3,110.4 479.0,111.9 C478.8,113.4 478.5,114.9 478.2,116.4 C477.9,117.9 477.6,119.4 477.2,120.9 C476.9,122.4 476.6,123.9 476.2,125.4 C475.9,126.9 475.5,128.4 475.2,129.8 C474.8,131.3 474.4,132.8 474.0,134.3 C473.6,135.8 473.2,137.3 472.8,138.8 C472.4,140.2 472.0,141.7 471.5,143.2 C471.1,144.7 470.6,146.1 470.2,147.6 C469.7,149.1 469.2,150.5 468.7,152.0 C468.2,153.4 467.7,154.9 467.1,156.3 C466.6,157.7 466.1,159.2 465.5,160.6 C464.9,162.0 464.3,163.4 463.7,164.8 C463.1,166.2 462.5,167.6 461.9,169.0 C461.3,170.4 460.6,171.8 459.9,173.2 C459.3,174.5 458.6,175.9 457.9,177.3 C457.2,178.6 456.4,179.9 455.7,181.3 C454.9,182.6 454.2,183.9 453.4,185.2 C452.6,186.5 451.8,187.8 451.0,189.1 C450.1,190.4 449.3,191.7 448.4,192.9 C447.6,194.2 446.7,195.4 445.8,196.6 C444.9,197.8 443.9,199.1 443.0,200.2 C442.1,201.4 441.1,202.6 440.1,203.8 C439.1,204.9 438.1,206.1 437.1,207.2 C436.1,208.3 435.1,209.5 434.0,210.5 C433.0,211.6 431.9,212.7 430.8,213.8 C429.7,214.8 428.6,215.9 427.5,216.9 C426.3,217.9 425.2,218.9 424.0,219.9 C422.9,220.8 421.7,221.8 420.5,222.7 C419.3,223.6 418.1,224.6 416.9,225.4 C415.6,226.3 414.4,227.2 413.1,228.0 C411.9,228.9 410.6,229.7 409.3,230.5 C408.0,231.3 406.7,232.1 405.4,232.9 C404.0,233.6 402.7,234.4 401.4,235.1 C400.0,235.8 398.7,236.6 397.3,237.3 C396.0,238.0 394.6,238.7 393.2,239.4 C391.9,240.1 390.5,240.8 389.1,241.4 C387.8,242.1 386.4,242.8 385.0,243.5 C383.6,244.2 382.3,244.8 380.9,245.5 C379.5,246.2 378.1,246.8 376.8,247.5 C375.4,248.2 374.0,248.8 372.6,249.5 C371.2,250.2 369.9,250.8 368.5,251.5 C367.1,252.1 365.7,252.8 364.3,253.4 C363.0,254.1 361.6,254.8 360.2,255.4 C358.8,256.1 357.4,256.7 356.1,257.4 C354.7,258.0 353.3,258.6 351.9,259.3 C350.5,259.9 349.1,260.6 347.7,261.2 C346.4,261.8 345.0,262.5 343.6,263.1 C342.2,263.7 340.8,264.3 339.4,265.0 C338.0,265.6 336.6,266.2 335.2,266.8 C333.8,267.4 332.4,268.0 331.0,268.6 C329.6,269.2 328.2,269.8 326.8,270.4 C325.4,271.0 324.0,271.5 322.6,272.1 C321.2,272.7 319.8,273.3 318.3,273.8 C316.9,274.4 315.5,274.9 314.1,275.5 C312.7,276.0 311.2,276.6 309.8,277.1 C308.4,277.6 307.0,278.1 305.5,278.7 C304.1,279.2 302.7,279.7 301.2,280.2 C299.8,280.7 298.3,281.1 296.9,281.6 C295.4,282.1 294.0,282.6 292.5,283.0 C291.1,283.5 289.6,283.9 288.2,284.4 C286.7,284.8 285.2,285.2 283.8,285.6 C282.3,286.0 280.8,286.4 279.4,286.8 C277.9,287.2 276.4,287.6 274.9,287.9 C273.5,288.3 272.0,288.7 270.5,289.0 C269.0,289.3 267.5,289.6 266.0,289.9 C264.5,290.2 263.0,290.5 261.5,290.8 C260.0,291.1 258.5,291.4 257.0,291.6 C255.5,291.9 254.0,292.1 252.5,292.3 C251.0,292.6 249.5,292.8 248.0,293.0 C246.5,293.2 245.0,293.4 243.5,293.7 C242.0,293.9 240.4,294.1 238.9,294.2 C237.4,294.4 235.9,294.6 234.4,294.8 C232.9,295.0 231.4,295.1 229.8,295.3 C228.3,295.5 226.8,295.6 225.3,295.8 C223.8,295.9 222.3,296.1 220.7,296.2 C219.2,296.4 217.7,296.5 216.2,296.6 C214.7,296.8 213.1,296.9 211.6,297.0 C210.1,297.2 208.6,297.3 207.0,297.4 C205.5,297.5 204.0,297.7 202.5,297.8 C201.0,297.9 199.4,298.0 197.9,298.1 C196.4,298.2 194.9,298.4 193.3,298.5 C191.8,298.6 190.3,298.7 188.8,298.8 C187.2,298.9 185.7,299.0 184.2,299.1 C182.7,299.2 181.1,299.3 179.6,299.5 C178.1,299.6 176.6,299.7 175.1,299.8 C173.5,299.9 172.0,300.0 170.5,300.1 C169.0,300.2 167.4,300.3 165.9,300.5 C164.4,300.6 162.9,300.7 161.4,300.8 C159.8,300.9 158.3,301.1 156.8,301.2 C155.3,301.3 153.7,301.5 152.2,301.6 C150.7,301.7 149.2,301.9 147.7,302.0 C146.2,302.2 144.6,302.3 143.1,302.5 C141.6,302.6 140.1,302.8 138.6,302.9 C137.1,303.1 135.5,303.3 134.0,303.5 C132.5,303.6 130.3,303.9 129.5,304.0" stroke="#E46C0A" stroke-width="3.3"/>
<path d="M130.0,301.8 C130.4,301.0 131.4,298.4 132.4,296.9 C133.3,295.5 134.5,294.3 135.8,293.3 C137.2,292.2 138.7,291.3 140.2,290.6 C141.8,289.8 143.5,289.2 145.2,288.7 C147.0,288.1 148.8,287.7 150.7,287.4 C152.5,287.0 154.4,286.7 156.3,286.4 C158.2,286.2 160.0,285.9 161.8,285.7 C163.6,285.5 165.4,285.2 167.1,285.0 C168.8,284.7 171.0,284.2 171.8,284.0 M172.7,288.4 C173.4,288.2 175.4,287.7 176.8,287.4 C178.3,287.1 179.7,286.8 181.2,286.6 C182.6,286.3 184.1,286.1 185.7,285.9 C187.2,285.7 188.7,285.5 190.3,285.4 C191.8,285.2 193.4,285.0 194.9,284.9 C196.5,284.7 198.1,284.6 199.7,284.4 C201.2,284.2 202.8,284.1 204.4,283.9 C206.0,283.7 207.6,283.6 209.2,283.4 C210.7,283.2 212.3,282.9 213.9,282.7 C215.4,282.5 217.0,282.2 218.5,281.9 C220.0,281.6 221.5,281.3 223.0,280.9 C224.5,280.5 226.0,280.1 227.4,279.6 C228.8,279.2 230.3,278.7 231.6,278.1 C233.0,277.5 234.3,276.9 235.6,276.2 C236.9,275.5 238.2,274.8 239.4,274.0 C240.7,273.2 241.8,272.3 243.0,271.4 C244.1,270.5 245.3,269.6 246.4,268.6 C247.4,267.6 248.5,266.5 249.5,265.4 C250.6,264.4 251.6,263.2 252.5,262.1 C253.5,260.9 254.5,259.7 255.4,258.5 C256.3,257.3 257.2,256.1 258.1,254.8 C259.0,253.6 259.9,252.3 260.8,251.0 C261.6,249.7 262.4,248.4 263.3,247.1 C264.1,245.8 264.9,244.5 265.7,243.1 C266.6,241.8 267.4,240.4 268.2,239.1 C269.0,237.8 269.8,236.4 270.5,235.1 C271.3,233.7 272.1,232.4 273.0,231.1 C273.8,229.7 274.6,228.4 275.4,227.1 C276.2,225.8 277.0,224.5 277.9,223.2 C278.7,221.9 279.5,220.6 280.4,219.3 C281.3,218.1 282.2,216.8 283.1,215.6 C284.0,214.4 284.9,213.2 285.8,212.0 C286.8,210.8 287.8,209.7 288.8,208.6 C289.8,207.4 290.8,206.4 291.8,205.3 C292.9,204.3 294.0,203.2 295.1,202.3 C296.3,201.3 297.4,200.3 298.6,199.4 C299.8,198.5 301.1,197.7 302.3,196.9 C303.6,196.0 304.9,195.3 306.2,194.5 C307.5,193.8 308.9,193.1 310.2,192.4 C311.6,191.8 313.0,191.2 314.4,190.6 C315.8,190.0 317.3,189.5 318.7,189.0 C320.1,188.4 321.6,188.0 323.1,187.5 C324.5,187.0 326.0,186.6 327.5,186.2 C329.0,185.7 330.5,185.3 331.9,184.9 C333.4,184.5 334.9,184.1 336.4,183.8 C337.9,183.4 339.4,183.0 340.9,182.6 C342.4,182.3 343.9,181.9 345.4,181.5 C346.8,181.2 348.3,180.8 349.8,180.5 C351.3,180.1 352.8,179.8 354.3,179.4 C355.8,179.1 357.3,178.7 358.8,178.4 C360.3,178.0 361.8,177.7 363.2,177.3 C364.7,177.0 366.2,176.6 367.7,176.3 C369.2,175.9 370.6,175.5 372.1,175.1 C373.6,174.7 375.1,174.4 376.5,174.0 C378.0,173.6 379.5,173.1 380.9,172.7 C382.4,172.3 383.8,171.9 385.3,171.4 C386.7,171.0 388.2,170.5 389.6,170.0 C391.0,169.5 392.5,169.0 393.9,168.5 C395.3,168.0 396.8,167.4 398.2,166.9 C399.6,166.3 401.0,165.7 402.4,165.1 C403.8,164.5 405.2,163.9 406.6,163.3 C407.9,162.6 409.3,161.9 410.7,161.3 C412.1,160.6 413.4,159.9 414.8,159.1 C416.1,158.4 417.5,157.7 418.8,156.9 C420.1,156.1 421.4,155.3 422.7,154.5 C424.1,153.7 425.4,152.9 426.6,152.1 C427.9,151.2 429.2,150.4 430.5,149.5 C431.7,148.6 433.0,147.7 434.2,146.8 C435.5,145.9 436.7,145.0 437.9,144.1 C439.1,143.1 440.3,142.2 441.5,141.2 C442.7,140.2 443.9,139.2 445.0,138.2 C446.2,137.3 447.3,136.2 448.5,135.2 C449.6,134.2 450.7,133.1 451.8,132.1 C452.9,131.0 454.0,130.0 455.1,128.9 C456.2,127.8 457.2,126.7 458.2,125.6 C459.3,124.5 460.8,122.9 461.3,122.3 M461.3,122.3 C461.2,123.0 460.9,125.3 460.7,126.7 C460.5,128.2 460.3,129.7 460.0,131.2 C459.7,132.7 459.5,134.2 459.2,135.6 C458.9,137.1 458.6,138.6 458.3,140.1 C457.9,141.6 457.6,143.1 457.2,144.6 C456.8,146.1 456.5,147.5 456.1,149.0 C455.6,150.5 455.2,152.0 454.8,153.5 C454.3,154.9 453.9,156.4 453.4,157.9 C452.9,159.3 452.4,160.8 451.9,162.2 C451.4,163.7 450.8,165.1 450.3,166.5 C449.7,168.0 449.1,169.4 448.5,170.8 C447.9,172.2 447.3,173.6 446.6,175.0 C446.0,176.4 445.3,177.8 444.6,179.2 C443.9,180.5 443.2,181.9 442.5,183.2 C441.8,184.6 441.0,185.9 440.3,187.2 C439.5,188.5 438.7,189.8 437.9,191.1 C437.1,192.4 436.2,193.6 435.4,194.9 C434.5,196.1 433.6,197.4 432.7,198.6 C431.8,199.8 430.9,201.0 430.0,202.1 C429.0,203.3 428.0,204.4 427.1,205.6 C426.1,206.7 425.1,207.8 424.0,208.9 C423.0,210.0 421.9,211.0 420.8,212.1 C419.8,213.1 418.7,214.1 417.5,215.1 C416.4,216.1 415.2,217.0 414.1,218.0 C412.9,218.9 411.7,219.8 410.5,220.7 C409.3,221.6 408.1,222.4 406.8,223.3 C405.6,224.1 404.3,225.0 403.0,225.8 C401.7,226.6 400.4,227.4 399.1,228.1 C397.8,228.9 396.5,229.7 395.2,230.4 C393.8,231.2 392.5,231.9 391.1,232.6 C389.8,233.4 388.4,234.1 387.1,234.8 C385.7,235.5 384.3,236.2 382.9,236.9 C381.6,237.6 380.2,238.2 378.8,238.9 C377.4,239.6 376.0,240.3 374.6,240.9 C373.3,241.6 371.9,242.3 370.5,242.9 C369.1,243.6 367.7,244.3 366.3,244.9 C365.0,245.6 363.6,246.3 362.2,247.0 C360.8,247.6 359.5,248.3 358.1,249.0 C356.7,249.6 355.4,250.3 354.0,251.0 C352.6,251.7 351.3,252.3 349.9,253.0 C348.6,253.7 347.2,254.4 345.8,255.0 C344.5,255.7 343.1,256.4 341.8,257.0 C340.4,257.7 339.0,258.3 337.7,259.0 C336.3,259.7 335.0,260.3 333.6,261.0 C332.2,261.6 330.9,262.3 329.5,262.9 C328.1,263.6 326.8,264.2 325.4,264.8 C324.0,265.5 322.6,266.1 321.2,266.7 C319.9,267.3 318.5,267.9 317.1,268.6 C315.7,269.2 314.3,269.8 312.9,270.4 C311.5,271.0 310.1,271.6 308.7,272.1 C307.3,272.7 305.9,273.3 304.5,273.9 C303.1,274.4 301.7,275.0 300.3,275.5 C298.9,276.1 297.5,276.6 296.0,277.2 C294.6,277.7 293.2,278.2 291.8,278.7 C290.3,279.3 288.9,279.8 287.5,280.3 C286.0,280.8 284.6,281.2 283.2,281.7 C281.7,282.2 280.3,282.7 278.8,283.1 C277.4,283.6 275.9,284.0 274.5,284.4 C273.0,284.9 271.6,285.3 270.1,285.7 C268.7,286.1 267.2,286.5 265.7,286.9 C264.3,287.3 262.8,287.6 261.3,288.0 C259.9,288.4 258.4,288.7 256.9,289.0 C255.4,289.4 254.0,289.7 252.5,290.0 C251.0,290.3 249.5,290.6 248.0,290.8 C246.5,291.1 245.0,291.4 243.5,291.6 C242.0,291.9 240.5,292.1 239.0,292.3 C237.5,292.5 236.0,292.7 234.5,292.9 C233.0,293.1 231.5,293.2 230.0,293.4 C228.5,293.5 227.0,293.6 225.4,293.8 C223.9,293.9 222.4,294.0 220.9,294.1 C219.4,294.2 217.8,294.3 216.3,294.4 C214.8,294.5 213.3,294.6 211.7,294.7 C210.2,294.8 208.7,294.9 207.2,295.0 C205.6,295.1 204.1,295.2 202.6,295.3 C201.1,295.4 199.6,295.5 198.0,295.6 C196.5,295.7 195.0,295.9 193.5,296.0 C192.0,296.1 190.5,296.3 188.9,296.4 C187.4,296.6 185.9,296.7 184.4,296.9 C182.9,297.0 181.4,297.2 179.9,297.4 C178.4,297.5 176.9,297.7 175.4,297.8 C173.9,298.0 172.3,298.2 170.8,298.3 C169.3,298.5 167.8,298.7 166.3,298.8 C164.8,299.0 163.3,299.2 161.8,299.3 C160.3,299.5 158.8,299.7 157.3,299.8 C155.8,300.0 154.3,300.1 152.7,300.2 C151.2,300.4 149.7,300.5 148.2,300.7 C146.7,300.8 145.2,300.9 143.7,301.0 C142.2,301.1 140.6,301.3 139.1,301.3 C137.6,301.4 136.1,301.5 134.6,301.6 C133.0,301.7 130.8,301.8 130.0,301.8" stroke="#FF0000" stroke-width="3.3"/>
</g>
<path d="M89.5,9.25 V322.1 M88.2,320.8 H586.7" stroke="#000" stroke-width="2.6" fill="none"/>
<path d="M83.6,10.55 H89.5 M83.6,62.26 H89.5 M83.6,113.97 H89.5 M83.6,165.68 H89.5 M83.6,217.38 H89.5 M83.6,269.09 H89.5 M83.6,320.80 H89.5 M89.50,320.8 V326.5 M172.15,320.8 V326.5 M254.80,320.8 V326.5 M337.45,320.8 V326.5 M420.10,320.8 V326.5 M502.75,320.8 V326.5 M585.40,320.8 V326.5 " stroke="#000" stroke-width="2.6" fill="none"/>
<path d="M88.7,429.9 V738.3 M87.4,737 H589.65" stroke="#000" stroke-width="2.6" fill="none"/>
<path d="M83,431.20 H88.7 M83,492.36 H88.7 M83,553.52 H88.7 M83,614.68 H88.7 M83,675.84 H88.7 M83,737.00 H88.7 M88.70,737 V742.5 M160.08,737 V742.5 M231.46,737 V742.5 M302.84,737 V742.5 M374.22,737 V742.5 M445.60,737 V742.5 M516.98,737 V742.5 M588.36,737 V742.5 " stroke="#000" stroke-width="2.6" fill="none"/>
<path d="M160.1,500.1 L517.0,679.0" stroke="#000" stroke-width="3" fill="none"/>
<circle cx="160.1" cy="510.7" r="4.0" stroke="#FF0000" stroke-width="2.3" fill="#fff" fill-opacity="0"/>
<circle cx="231.5" cy="529.1" r="4.0" stroke="#FF0000" stroke-width="2.3" fill="#fff" fill-opacity="0"/>
<circle cx="302.8" cy="563.9" r="4.0" stroke="#FF0000" stroke-width="2.3" fill="#fff" fill-opacity="0"/>
<circle cx="374.2" cy="602.4" r="4.0" stroke="#FF0000" stroke-width="2.3" fill="#fff" fill-opacity="0"/>
<circle cx="445.6" cy="651.4" r="4.0" stroke="#FF0000" stroke-width="2.3" fill="#fff" fill-opacity="0"/>
<circle cx="517.0" cy="680.1" r="4.0" stroke="#FF0000" stroke-width="2.3" fill="#fff" fill-opacity="0"/>
<g opacity="0.999">
<text x="73" y="17.1" text-anchor="end" class="t">49</text>
<text x="73" y="68.8" text-anchor="end" class="t">40</text>
<text x="73" y="120.5" text-anchor="end" class="t">31</text>
<text x="73" y="172.2" text-anchor="end" class="t">22</text>
<text x="73" y="223.9" text-anchor="end" class="t">13</text>
<text x="73" y="275.6" text-anchor="end" class="t">4</text>
<text x="73" y="327.3" text-anchor="end" class="t">-5</text>
<text x="90.1" y="349.3" text-anchor="middle" class="t">0</text>
<text x="172.8" y="349.3" text-anchor="middle" class="t">0.2</text>
<text x="255.4" y="349.3" text-anchor="middle" class="t">0.4</text>
<text x="338.1" y="349.3" text-anchor="middle" class="t">0.6</text>
<text x="420.7" y="349.3" text-anchor="middle" class="t">0.8</text>
<text x="503.4" y="349.3" text-anchor="middle" class="t">1</text>
<text x="586.0" y="349.3" text-anchor="middle" class="t">1.2</text>
<text x="71.8" y="437.3" text-anchor="end" class="t">1</text>
<text x="71.8" y="498.5" text-anchor="end" class="t">0.9</text>
<text x="71.8" y="559.6" text-anchor="end" class="t">0.8</text>
<text x="71.8" y="620.8" text-anchor="end" class="t">0.7</text>
<text x="71.8" y="681.9" text-anchor="end" class="t">0.6</text>
<text x="71.8" y="743.1" text-anchor="end" class="t">0.5</text>
<text x="88.7" y="765.5" text-anchor="middle" class="t">3</text>
<text x="160.1" y="765.5" text-anchor="middle" class="t">4</text>
<text x="231.5" y="765.5" text-anchor="middle" class="t">5</text>
<text x="302.8" y="765.5" text-anchor="middle" class="t">6</text>
<text x="374.2" y="765.5" text-anchor="middle" class="t">7</text>
<text x="445.6" y="765.5" text-anchor="middle" class="t">8</text>
<text x="517.0" y="765.5" text-anchor="middle" class="t">9</text>
<text x="588.4" y="765.5" text-anchor="middle" class="t">10</text>
<text x="338" y="380" text-anchor="middle" class="t" style="font-size:19.4px">Potential (V) vs. Ag/AgCl</text>
<text transform="translate(20,169) rotate(-90)" text-anchor="middle" class="t">Current (µA)</text>
<text x="339" y="791" text-anchor="middle" class="t">pH</text>
<text transform="translate(16,585) rotate(-90)" text-anchor="middle" class="t">Potential (V) vs. Ag/AgCl</text>
<text x="109.3" y="27" class="L">A</text>
<text x="113.3" y="472.5" class="L">B</text>
<text x="544.6" y="70.9" class="l">a</text>
<text x="540" y="35.2" class="l">b</text>
<text x="511.5" y="48.6" class="l">c</text>
<text x="321" y="107.1" class="l">d</text>
<text x="285.8" y="140.3" class="l">e</text>
<text x="247.3" y="178.3" class="l">f</text>
</g>
<g stroke="#000" stroke-width="1.4" fill="none">
<path d="M336.0,111.7 L365.5,140.0 M363.4,130.4 L365.5,140.0 L355.8,138.3"/>
<path d="M299.4,144.4 L329.5,172.8 M327.4,163.2 L329.5,172.8 L319.8,171.2"/>
<path d="M254.5,183.6 L283.6,212.0 M281.6,202.4 L283.6,212.0 L274.0,210.2"/>
</g>
<g opacity="0.999">
<text x="393.5" y="484.7" text-anchor="middle" class="t">y = -0.0585x + 1.1213</text>
<text x="394.4" y="507" text-anchor="middle" class="t">R² = 0.9863</text>
</g>
</svg>
</body></html>
